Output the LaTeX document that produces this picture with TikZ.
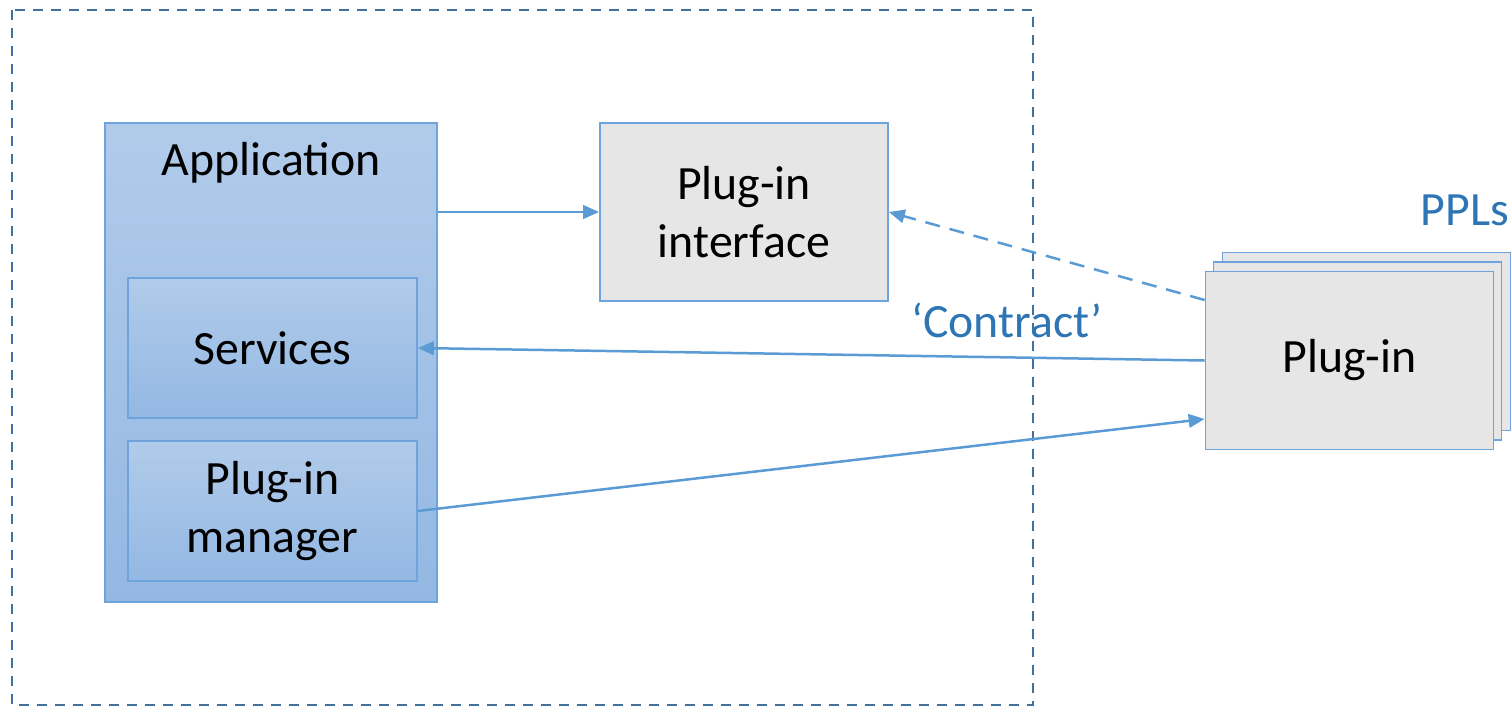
\documentclass[tikz,border=0pt]{standalone}
\usepackage{fontspec}
\setmainfont{Carlito}
\usetikzlibrary{arrows.meta,calc}
\definecolor{lineblue}{HTML}{5B9BD5}
\definecolor{boxedge}{HTML}{6FA3DC}
\definecolor{frameblue}{HTML}{41719C}
\definecolor{textblue}{HTML}{2E75B6}
\definecolor{gtop}{HTML}{B1CBEA}
\definecolor{gbot}{HTML}{93B8E3}
\definecolor{greyfill}{HTML}{E6E6E6}
\tikzset{
  bigtext/.style={font=\fontsize{27.2}{33}\selectfont},
  bluebox/.style={draw=boxedge, line width=0.035cm, top color=gtop, bottom color=gbot, inner sep=0pt, align=center, bigtext},
  greybox/.style={draw=boxedge, line width=0.035cm, fill=greyfill, inner sep=0pt, align=center, bigtext},
  conn/.style={draw=lineblue, line width=0.05cm, -{Triangle[length=0.32cm,width=0.27cm]}},
  dconn/.style={conn, dash pattern=on 0.3cm off 0.2cm},
  frame/.style={draw=frameblue, line width=0.045cm, dash pattern=on 0.2cm off 0.16cm},
}
\begin{document}
\begin{tikzpicture}[x=0.02cm,y=-0.02cm]
\useasboundingbox (0,0) rectangle (1511,707);
% outer dashed frame
\draw[frame] (12,10) rectangle (1033,705);
% application
\node[bluebox, minimum width=6.64cm, minimum height=9.58cm] (app) at (271,362.5) {};
\node[bigtext] (applabel) at (271,163) {Application};
\node[bluebox, minimum width=5.78cm, minimum height=2.8cm] (services) at (272.5,348) {Services};
\node[bluebox, minimum width=5.78cm, minimum height=2.8cm] (manager) at (272.5,511) {Plug-in\\manager};
% plug-in interface
\node[greybox, minimum width=5.76cm, minimum height=3.56cm] (iface) at (744,212) {Plug-in\\interface};
% plug-in stack
\node[greybox, minimum width=5.76cm, minimum height=3.56cm] (plugin3) at (1366.5,341.5) {};
\node[greybox, minimum width=5.76cm, minimum height=3.56cm] (plugin2) at (1357.5,351) {};
\node[greybox, minimum width=5.76cm, minimum height=3.56cm] (plugin) at (1349.5,360.5) {Plug-in};
% labels
\node[bigtext, text=textblue] (ppls) at (1465,210) {PPLs};
\node[bigtext, text=textblue] (contract) at (1007,320) {‘Contract’};
% connectors
\draw[conn] (app.east |- iface.west) -- (iface.west);
\draw[dconn] ([yshift=1.21cm]plugin.west) -- (iface.east);
\draw[conn] (plugin.west) -- (services.east);
\draw[conn] (manager.east) -- ([yshift=-1.17cm]plugin.west);
\end{tikzpicture}
\end{document}
